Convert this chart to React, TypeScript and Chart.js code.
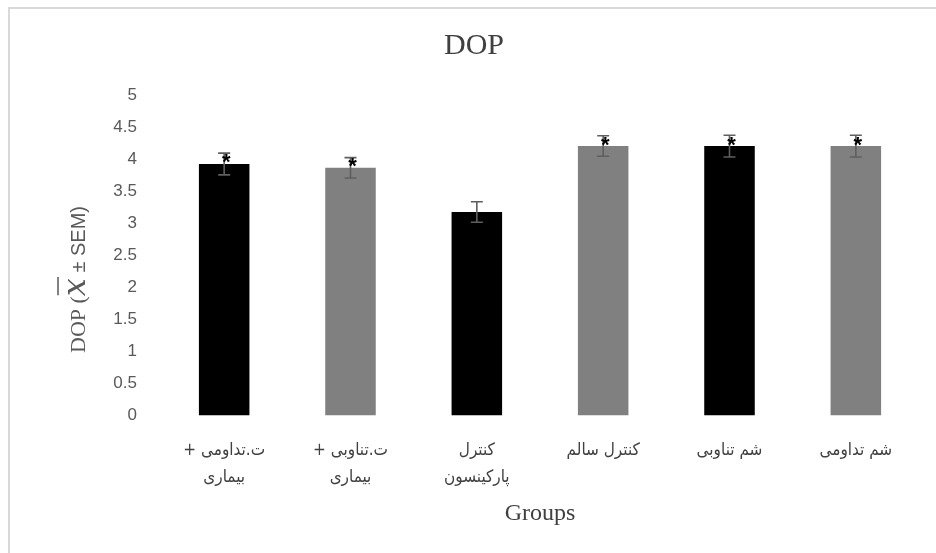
import React, { useEffect, useRef } from "react";
import { Chart, registerables } from "chart.js";

Chart.register(...registerables);

// Trailing RLM keeps the Persian lines in right-to-left order ("+" on the left).
const RLM = "\u200F";

const categories: string[][] = [
  ["ت.تداومی +" + RLM, "بیماری"],
  ["ت.تناوبی +" + RLM, "بیماری"],
  ["کنترل", "پارکینسون"],
  ["کنترل سالم" + RLM],
  ["شم تناوبی" + RLM],
  ["شم تداومی" + RLM],
];

const meanValues: number[] = [3.93, 3.87, 3.18, 4.21, 4.21, 4.21];
const semValues: number[] = [0.17, 0.16, 0.16, 0.16, 0.17, 0.17];
const significant: boolean[] = [true, true, false, true, true, true];
const barColors: string[] = ["#000000", "#808080", "#000000", "#808080", "#000000", "#808080"];

const yMin = 0;
const yMax = 5;
const yStep = 0.5;

const chartTitle = "DOP";
const xTitle = "Groups";

const errorBarPlugin = {
  id: "errorBars",
  afterDatasetsDraw(chart: any) {
    const ctx = chart.ctx;
    const meta = chart.getDatasetMeta(0);
    const yScale = chart.scales.y;
    ctx.save();
    meta.data.forEach((bar: any, i: number) => {
      const x = bar.x;
      const yTop = yScale.getPixelForValue(meanValues[i] + semValues[i]);
      const yBot = yScale.getPixelForValue(meanValues[i] - semValues[i]);
      ctx.strokeStyle = "#5f5f5f";
      ctx.lineWidth = 1.6;
      ctx.beginPath();
      ctx.moveTo(x, yTop);
      ctx.lineTo(x, yBot);
      ctx.moveTo(x - 6, yTop);
      ctx.lineTo(x + 6, yTop);
      ctx.moveTo(x - 6, yBot);
      ctx.lineTo(x + 6, yBot);
      ctx.stroke();
    });
    meta.data.forEach((bar: any, i: number) => {
      if (!significant[i]) return;
      const yBarTop = yScale.getPixelForValue(meanValues[i]);
      ctx.fillStyle = "#000000";
      ctx.font = "bold 22px 'Liberation Sans'";
      ctx.textAlign = "center";
      ctx.textBaseline = "alphabetic";
      ctx.fillText("*", bar.x + 2, yBarTop - 7 + 12.5);
    });
    ctx.restore();
  },
};

const yTitlePlugin = {
  id: "yTitle",
  afterDraw(chart: any) {
    const ctx = chart.ctx;
    const area = chart.chartArea;
    const baseX = area.left - 76;
    const centerY = (area.top + area.bottom) / 2 + 24;
    const pieces = [
      { text: "DOP (", font: "22px 'Liberation Serif'" },
      { text: "x", font: "italic 32px 'DejaVu Serif'" },
      { text: " ± SEM)", font: "20px 'Liberation Sans'" },
    ];
    ctx.save();
    ctx.direction = "ltr";
    let total = 0;
    const widths = pieces.map((p) => {
      ctx.font = p.font;
      const w = ctx.measureText(p.text).width;
      total += w;
      return w;
    });
    ctx.translate(baseX, centerY + total / 2);
    ctx.rotate(-Math.PI / 2);
    ctx.fillStyle = "#595959";
    ctx.textAlign = "left";
    ctx.textBaseline = "alphabetic";
    let cx = 0;
    pieces.forEach((p, i) => {
      ctx.font = p.font;
      ctx.fillText(p.text, cx, 0);
      if (i === 1) {
        ctx.strokeStyle = "#595959";
        ctx.lineWidth = 1.5;
        ctx.beginPath();
        ctx.moveTo(cx + 1, -27);
        ctx.lineTo(cx + widths[i] + 1, -27);
        ctx.stroke();
      }
      cx += widths[i];
    });
    ctx.restore();
  },
};

export default function App() {
  const canvasRef = useRef<HTMLCanvasElement | null>(null);

  useEffect(() => {
    if (!canvasRef.current) return;
    const chart = new Chart(canvasRef.current, {
      type: "bar",
      data: {
        labels: categories,
        datasets: [
          {
            label: chartTitle,
            data: meanValues,
            backgroundColor: barColors,
            borderWidth: 0,
            categoryPercentage: 1,
            barPercentage: 0.4,
          },
        ],
      },
      options: {
        responsive: false,
        animation: false,
        devicePixelRatio: 1,
        layout: { padding: { left: 29, right: 17, top: 0, bottom: 0 } },
        plugins: {
          legend: { display: false },
          tooltip: { enabled: false },
          title: {
            display: true,
            text: chartTitle,
            color: "#404040",
            font: { family: "'Liberation Serif'", size: 30, weight: "normal" },
            padding: { top: 28, bottom: 31.5 },
          },
        },
        scales: {
          x: {
            grid: { display: false, drawTicks: false },
            border: { display: false },
            ticks: {
              color: "#404040",
              font: { family: "'DejaVu Sans Condensed', 'DejaVu Sans'", size: 17, lineHeight: 1.6 },
              padding: 21,
              maxRotation: 0,
              autoSkip: false,
            },
            title: {
              display: true,
              text: xTitle,
              color: "#404040",
              font: { family: "'Liberation Serif'", size: 24 },
              padding: { top: 0, bottom: 24.6 },
            },
            afterFit(scale: any) {
              scale.height = 137.5;
            },
          },
          y: {
            min: yMin,
            max: yMax,
            grid: { display: false, drawTicks: false },
            border: { display: false },
            ticks: {
              stepSize: yStep,
              color: "#595959",
              font: { family: "'Liberation Sans'", size: 17 },
              padding: 24,
              callback: (value: any) => `${Number(value)}`,
            },
            afterFit(scale: any) {
              scale.width = 132;
            },
          },
        },
      },
      plugins: [errorBarPlugin, yTitlePlugin],
    });
    return () => chart.destroy();
  }, []);

  return (
    <div style={{ position: "fixed", left: 0, top: 0, width: 936, height: 553, background: "#ffffff", overflow: "hidden" }}>
      <div
        style={{
          position: "absolute",
          left: 8,
          top: 7,
          width: 1000,
          height: 1000,
          border: "2px solid #d9d9d9",
          boxSizing: "border-box",
        }}
      />
      <canvas ref={canvasRef} width={936} height={553} style={{ position: "absolute", left: 0, top: 0 }} />
    </div>
  );
}
